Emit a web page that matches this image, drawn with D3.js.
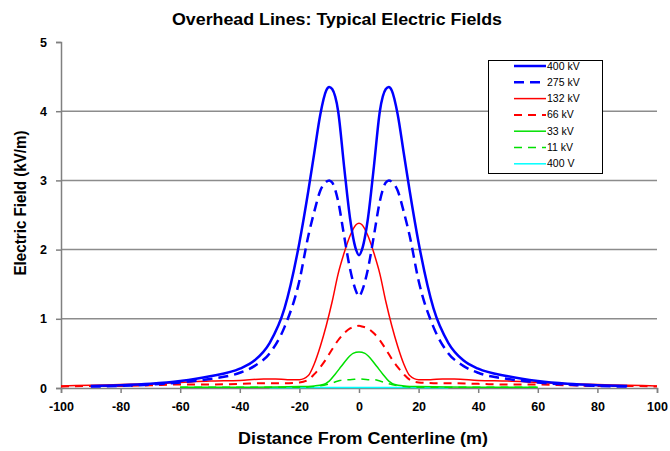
<!DOCTYPE html>
<html><head><meta charset="utf-8">
<script src="https://cdn.jsdelivr.net/npm/d3@7"></script>
<style>body{margin:0;background:#fff}svg{display:block}text{font-family:"Liberation Sans",Arial,sans-serif}</style>
</head><body><svg id="c" width="670" height="451"></svg>
<script>
// Distances (half, mirrored) and values
const dist400 = [-90,-80,-70,-60,-50,-40,-35,-30,-25,-20,-17,-15,-13,-11,-10,-9,-7,-5,-3,-1,0];
const kv400 = [0.03,0.04,0.06,0.10,0.17,0.28,0.40,0.65,1.15,2.10,2.85,3.40,3.95,4.30,4.35,4.32,4.00,3.20,2.45,2.00,1.92];
const dist275 = [-90,-80,-70,-60,-50,-40,-35,-30,-25,-20,-17,-15,-13,-11,-10,-9,-7,-5,-3,-1,0];
const kv275 = [0.02,0.03,0.05,0.08,0.13,0.22,0.32,0.50,0.88,1.55,2.20,2.55,2.85,2.98,3.00,2.97,2.70,2.20,1.72,1.40,1.32];
const dist132 = [-100,-90,-80,-70,-60,-50,-40,-32,-28,-24,-20,-17,-15,-13,-11,-9,-7,-5,-3,-1,0];
const kv132 = [0.03,0.04,0.05,0.06,0.08,0.10,0.11,0.13,0.13,0.12,0.12,0.18,0.35,0.60,0.90,1.25,1.65,1.95,2.20,2.36,2.38];
const dist66 = [-100,-90,-80,-70,-60,-50,-40,-30,-25,-20,-17,-15,-13,-11,-9,-7,-5,-3,-1,0];
const kv66 = [0.02,0.03,0.03,0.04,0.05,0.05,0.06,0.07,0.07,0.08,0.12,0.20,0.30,0.42,0.56,0.69,0.79,0.86,0.89,0.90];
const dist33 = [-60,-40,-20,-15,-12,-10,-8,-6,-4,-2,0];
const kv33 = [0.01,0.01,0.02,0.03,0.05,0.10,0.20,0.31,0.42,0.50,0.52];
const dist11 = [-60,-40,-20,-15,-10,-7,-5,-3,0];
const kv11 = [0.01,0.01,0.01,0.02,0.06,0.10,0.12,0.12,0.13];
const dist400v = [-30,-15,0];
const v400 = [0.005,0.006,0.007];
const seriesNames = ["400 kV","275 kV","132 kV","66 kV","33 kV","11 kV","400 V"];
const xTicks = [-100,-80,-60,-40,-20,0,20,40,60,80,100];
const yTicks = [0,1,2,3,4,5];

function mirror(d, v){
  const pts = d.map((x,i)=>[x,v[i]]);
  const right = pts.filter(p=>p[0]<0).map(p=>[-p[0],p[1]]).reverse();
  return pts.concat(right);
}
const series = [
  {name:seriesNames[0], pts:mirror(dist400,kv400), color:"#0000ff", w:2.5, dash:null},
  {name:seriesNames[1], pts:mirror(dist275,kv275), color:"#0000ff", w:2.5, dash:"10,6"},
  {name:seriesNames[2], pts:mirror(dist132,kv132), color:"#ff0000", w:1.5, dash:null},
  {name:seriesNames[3], pts:mirror(dist66,kv66), color:"#ff0000", w:2, dash:"8,6"},
  {name:seriesNames[4], pts:mirror(dist33,kv33), color:"#00e000", w:1.5, dash:null},
  {name:seriesNames[5], pts:mirror(dist11,kv11), color:"#00e000", w:1.5, dash:"8,6"},
  {name:seriesNames[6], pts:mirror(dist400v,v400), color:"#00ffff", w:1.5, dash:null}
];

const svg = d3.select("#c");
const L=61, R=657, T=42, B=388;
const x = d3.scaleLinear().domain([-100,100]).range([L,R]);
const y = d3.scaleLinear().domain([0,5]).range([B,T]);

// gridlines
svg.append("g").selectAll("line").data(yTicks.filter(t=>t>0&&t<5)).join("line")
  .attr("x1",L).attr("x2",R).attr("y1",d=>y(d)).attr("y2",d=>y(d))
  .attr("stroke","#8c8c8c").attr("stroke-width",1.5);

// axes
const yAxis = svg.append("g").attr("transform",`translate(${L},0)`)
  .call(d3.axisLeft(y).tickValues(yTicks).tickFormat(d=>String(d)).tickSize(5).tickPadding(9));
const xAxis = svg.append("g").attr("transform",`translate(0,${B})`)
  .call(d3.axisBottom(x).tickValues(xTicks).tickFormat(d=>String(d)).tickSize(5).tickPadding(9));
[xAxis,yAxis].forEach(a=>{
  a.select(".domain").attr("stroke","#808080").attr("stroke-width",1.5);
  a.selectAll(".tick line").attr("stroke","#808080").attr("stroke-width",1.5);
  a.selectAll(".tick text").attr("font-size",12.5).attr("font-weight","bold").attr("fill","#000")
   .style("font-family","'Liberation Sans',Arial,sans-serif");
});

// lines
const line = d3.line().x(d=>x(d[0])).y(d=>y(d[1])).curve(d3.curveMonotoneX);
const plot = svg.append("g");
series.slice().reverse().forEach(s=>{
  plot.append("path").attr("d",line(s.pts)).attr("fill","none")
    .attr("stroke",s.color).attr("stroke-width",s.w)
    .attr("stroke-dasharray",s.dash).attr("stroke-linejoin","round");
});

// titles
svg.append("text").attr("x",337).attr("y",25).attr("text-anchor","middle")
  .attr("font-size",16).attr("font-weight","bold")
  .attr("textLength",330).attr("lengthAdjust","spacingAndGlyphs")
  .text("Overhead Lines: Typical Electric Fields");
svg.append("text").attr("x",363).attr("y",444).attr("text-anchor","middle")
  .attr("font-size",16).attr("font-weight","bold")
  .attr("textLength",250).attr("lengthAdjust","spacingAndGlyphs")
  .text("Distance From Centerline (m)");
svg.append("text").attr("transform","translate(26,203) rotate(-90)").attr("text-anchor","middle")
  .attr("font-size",16).attr("font-weight","bold")
  .attr("textLength",145).attr("lengthAdjust","spacingAndGlyphs")
  .text("Electric Field (kV/m)");

// legend
const lg = svg.append("g");
lg.append("rect").attr("x",488.5).attr("y",60.5).attr("width",114).attr("height",113)
  .attr("fill","#fff").attr("stroke","#000").attr("stroke-width",1);
series.forEach((s,i)=>{
  const yy = 66 + i*16.3;
  lg.append("line").attr("x1",514).attr("x2",546).attr("y1",yy).attr("y2",yy)
    .attr("stroke",s.color).attr("stroke-width",s.w).attr("stroke-dasharray",s.dash);
  lg.append("text").attr("x",547).attr("y",yy+3.5).attr("font-size",10.5).text(s.name);
});
</script></body></html>
